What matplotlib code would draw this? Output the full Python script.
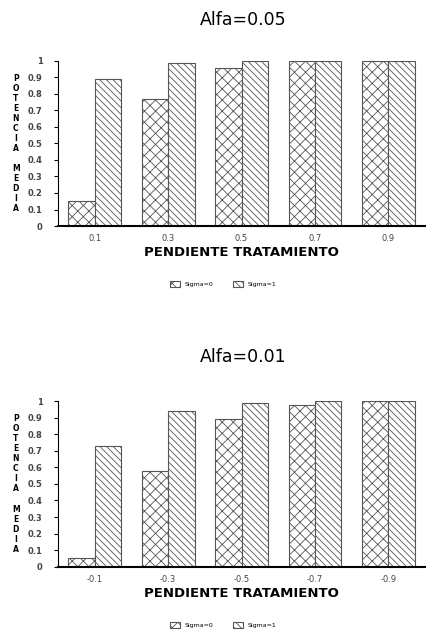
import numpy as np
import matplotlib
matplotlib.use("Agg")
import matplotlib.pyplot as plt

# datos
pend_pos = ["0.1", "0.3", "0.5", "0.7", "0.9"]
pend_neg = ["-0.1", "-0.3", "-0.5", "-0.7", "-0.9"]
pot05_s0 = [0.15, 0.77, 0.955, 1.0, 1.0]
pot05_s1 = [0.89, 0.985, 1.0, 1.0, 1.0]
pot01_s0 = [0.055, 0.58, 0.89, 0.975, 1.0]
pot01_s1 = [0.73, 0.94, 0.99, 1.0, 1.0]
yticks = [0, 0.1, 0.2, 0.3, 0.4, 0.5, 0.6, 0.7, 0.8, 0.9, 1]
yticklabels = ["0", "0.1", "0.2", "0.3", "0.4", "0.5", "0.6", "0.7", "0.8", "0.9", "1"]

plt.rcParams['hatch.color'] = '#8a8a8a'
plt.rcParams['hatch.linewidth'] = 0.6

fig = plt.figure(figsize=(4.26, 6.34), dpi=100)

def panel(rect, titulo, labels, s0, s1, title_y):
    ax = fig.add_axes(rect)
    x = np.arange(len(labels))
    w = 0.36
    ax.bar(x - w/2, s0, w, color='white', edgecolor='#555555', linewidth=0.8,
           hatch='xxx', label='Sigma=0')
    ax.bar(x + w/2, s1, w, color='white', edgecolor='#555555', linewidth=0.8,
           hatch='\\\\\\\\\\', label='Sigma=1')
    ax.set_xlim(-0.5, 4.5)
    ax.set_ylim(0, 1.0)
    ax.set_xticks(x)
    ax.set_xticklabels(labels, fontsize=6, color='#444444')
    ax.set_yticks(yticks)
    ax.set_yticklabels(yticklabels, fontsize=6, color='#444444', fontweight='bold')
    ax.tick_params(axis='x', length=0, pad=6)
    ax.tick_params(axis='y', length=3, width=0.8, pad=8)
    for s in ['top', 'right']:
        ax.spines[s].set_visible(False)
    ax.spines['bottom'].set_linewidth(1.5)
    ax.spines['left'].set_linewidth(0.8)
    ax.set_xlabel("PENDIENTE TRATAMIENTO", fontsize=9.5, fontweight='semibold', labelpad=2)
    ax.text(-0.115, 0.5, "P\nO\nT\nE\nN\nC\nI\nA\n\nM\nE\nD\nI\nA",
            transform=ax.transAxes, ha='center', va='center', fontsize=5.5,
            fontweight='bold', linespacing=1.15)
    fig.text(0.57, title_y, titulo, ha='center', va='center', fontsize=12.5,
             fontweight='medium')
    ax.legend(loc='upper center', bbox_to_anchor=(0.45, -0.3), ncol=2,
              frameon=False, fontsize=4.5, handlelength=1.6, handleheight=1.0,
              columnspacing=3)
    return ax

panel([0.136, 0.6435, 0.862, 0.2605], "Alfa=0.05", pend_pos, pot05_s0, pot05_s1, 0.968)
panel([0.136, 0.106, 0.862, 0.2615], "Alfa=0.01", pend_neg, pot01_s0, pot01_s1, 0.437)

fig.savefig("out.png", dpi=100)
